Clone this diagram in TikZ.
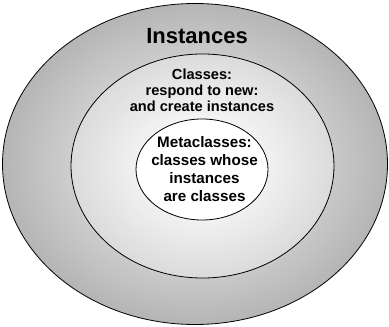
\documentclass[tikz,border=0pt]{standalone}
\usepackage{fontspec}
\setmainfont{Liberation Sans}
\tikzset{
  ring/.style={draw=black, line width=0.8pt},
  lbl/.style={align=center, inner sep=0pt, anchor=base, text=black}
}
\begin{document}
\begin{tikzpicture}[x=1pt,y=1pt]
\useasboundingbox (0,0) rectangle (389,327);
% outer ring gradient
\foreach \i in {0,...,42}{
  \pgfmathsetmacro\s{1-\i*0.01}
  \pgfmathsetmacro\k{100*(1-(0.71+(1-\s)*0.28))}
  \fill[black!\k] (195,163) ellipse [x radius=192.5*\s, y radius=160.5*\s];
}
\draw[ring] (195,163) ellipse [x radius=192.5, y radius=160.5];
% middle gradient
\foreach \i in {0,...,55}{
  \pgfmathsetmacro\s{1-\i*0.01}
  \pgfmathsetmacro\g{min(1,0.86+(1-\s)*0.17)}
  \pgfmathsetmacro\k{100*(1-\g)}
  \fill[black!\k] (202.5,161) ellipse [x radius=131.5*\s, y radius=112*\s];
}
\draw[ring] (202.5,161) ellipse [x radius=131.5, y radius=112];
\path[ring, fill=white] (202,157.5) ellipse [x radius=66, y radius=50.5];
\node[lbl, font={\fontsize{22}{26}\selectfont\bfseries}] (inst) at (197,283.7) {Instances};
\node[lbl, font={\fontsize{14.6}{16.2}\selectfont\bfseries}] (cls) at (202,215.3) {Classes:\\respond to new:\\and create instances};
\node[lbl, font={\fontsize{15.2}{18}\selectfont\bfseries}] (meta) at (204.5,125.3) {Metaclasses:\\classes whose\\instances\\are classes};
\end{tikzpicture}
\end{document}
